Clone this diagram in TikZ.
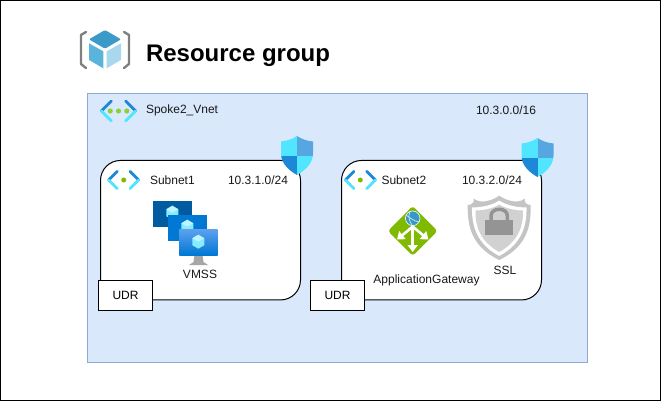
\documentclass[tikz,border=0pt]{standalone}
\usepackage{fontspec}
\setmainfont{Liberation Sans}
\usetikzlibrary{arrows.meta}

\definecolor{vnetfill}{HTML}{DAE8FC}
\definecolor{vnetline}{HTML}{8FAAD0}
\definecolor{azblue}{HTML}{1E88D8}
\definecolor{azcyan}{HTML}{50E6FF}
\definecolor{azgreen}{HTML}{7FBA00}
\definecolor{dotgreen}{HTML}{8CD03A}

\tikzset{
  % chevrons, drawn round the origin
  chevrons/.pic={
    \draw[azblue, line width=2.8pt, line cap=round] (-15,0) -- (-6.3,-8.7);
    \draw[azcyan, line width=2.8pt, line cap=round] (-15,0) -- (-6.3,8.7);
    \draw[azblue, line width=2.8pt, line cap=round] (15,0) -- (6.3,-8.7);
    \draw[azcyan, line width=2.8pt, line cap=round] (15,0) -- (6.3,8.7);
  },
  shieldicon/.pic={
    \clip (0,-19.5) .. controls (-5,-16) and (-11,-14.5) .. (-16,-14)
      -- (-16,-2) .. controls (-16,8) and (-8,15) .. (0,19.5)
      .. controls (8,15) and (16,8) .. (16,-2) -- (16,-14)
      .. controls (11,-14.5) and (5,-16) .. (0,-19.5) -- cycle;
    \fill[azcyan] (-17,-20) rectangle (0,0);
    \fill[azblue!75!white] (0,-20) rectangle (17,0);
    \fill[azblue] (-17,0) rectangle (0,20);
    \fill[azcyan] (0,0) rectangle (17,20);
  },
  vmcube/.pic={
    \fill[azcyan!70!white] (0,-7) -- (6,-3.5) -- (6,3.5) -- (0,7) -- (-6,3.5) -- (-6,-3.5) -- cycle;
    \fill[white, opacity=0.45] (0,-7) -- (6,-3.5) -- (0,0) -- (-6,-3.5) -- cycle;
  }
}

\begin{document}
\begin{tikzpicture}[x=1pt, y=-1pt, font=\fontsize{12}{14}\selectfont,
    frame/.style={draw=black, line width=1pt, minimum width=660pt, minimum height=400pt, inner sep=0pt, outer sep=0pt},
    vnetbox/.style={draw=vnetline, fill=vnetfill, line width=1pt, minimum width=500pt, minimum height=269pt, inner sep=0pt, outer sep=0pt},
    subnetbox/.style={draw=black, fill=white, line width=1pt, rounded corners=20pt, minimum width=200pt, minimum height=139.5pt, inner sep=0pt, outer sep=0pt},
    udrbox/.style={draw=black, fill=white, line width=1pt, minimum width=54pt, minimum height=30pt, inner sep=0pt, outer sep=0pt},
    label/.style={inner sep=0pt, outer sep=0pt, text=black!90},
    title/.style={inner sep=0pt, outer sep=0pt, font=\fontsize{24}{28}\selectfont\bfseries},
    gwarrow/.style={white, line width=2.6pt, -{Triangle[width=10pt, length=7pt]}}]
  \useasboundingbox (0,0) rectangle (661,401);

  \node[frame]   (page)    at (330.5, 200.5) {};
  \node[vnetbox] (vnet)    at (337.5, 228) {};
  \node[subnetbox] (subnet1) at (200.5, 230.2) {};
  \node[subnetbox] (subnet2) at (441.5, 230.2) {};
  \node[udrbox]  (udr1)    at (125.5, 295.5) {UDR};
  \node[udrbox]  (udr2)    at (337.5, 295.5) {UDR};

  % resource group icon
  \draw[black!50, line width=2.4pt, line cap=round, line join=round] (86,32) -- (81,35) -- (81,64) -- (86,68);
  \draw[black!50, line width=2.4pt, line cap=round, line join=round] (124,32) -- (129,35) -- (129,64) -- (124,68);
  \fill[rounded corners=1pt, fill={rgb,255:red,60;green,154;blue,201}] (105,30) -- (121,39.3) -- (105,48.7) -- (89,39.3) -- cycle;
  \fill[fill={rgb,255:red,90;green,180;blue,220}] (89,43.3) -- (103.3,51.3) -- (103.3,68.3) -- (89,60) -- cycle;
  \fill[fill={rgb,255:red,169;green,215;blue,238}] (106.7,51.3) -- (121,43.3) -- (121,60) -- (106.7,68.3) -- cycle;

  \node[title, anchor=west] (rgname) at (146, 55.5) {Resource group};

  % vnet texts and icon
  \pic[scale=1.14] at (118.5, 111) {chevrons};
  \foreach \x in {-8.3, 0, 8.3}
    \fill[dotgreen] (118.5+\x, 111) circle (2.6);
  \node[label, anchor=west] (vnetname) at (146, 110.5) {Spoke2\_Vnet};
  \node[label, anchor=west] (vnetcidr) at (476, 110.5) {10.3.0.0/16};

  % subnet icons
  \pic at (123.7, 180) {chevrons};
  \fill[azgreen] (123.7, 180) circle (2.5);
  \pic at (360.3, 180) {chevrons};
  \fill[azgreen] (360.3, 180) circle (2.5);

  \node[label, anchor=west] (name1) at (150, 180) {Subnet1};
  \node[label, anchor=west] (cidr1) at (228, 180) {10.3.1.0/24};
  \node[label, anchor=west] (name2) at (381.5, 180) {Subnet2};
  \node[label, anchor=west] (cidr2) at (462, 180) {10.3.2.0/24};

  \begin{scope}
    \pic at (297, 155.5) {shieldicon};
  \end{scope}
  \begin{scope}
    \pic at (537.5, 157.5) {shieldicon};
  \end{scope}

  % vmss
  \fill[fill={rgb,255:red,0;green,91;blue,161}] (153.3,201) rectangle (191.7,226.7);
  \pic at (172.3, 212.7) {vmcube};
  \fill[fill={rgb,255:red,0;green,120;blue,212}] (168.3,215.3) rectangle (206.7,241);
  \pic at (187.3, 226.7) {vmcube};
  \fill[black!35] (194.5,255) -- (202.5,255) -- (203.5,262) -- (208,265) -- (189,265) -- (193.5,262) -- cycle;
  \shade[top color={rgb,255:red,94;green,160;blue,239}, bottom color={rgb,255:red,0;green,120;blue,212}] (179.3,229.3) rectangle (217.7,255);
  \pic at (198.3, 241.7) {vmcube};
  \node[label] (vmss) at (200, 274.5) {VMSS};

  % application gateway
  \fill[azgreen, rounded corners=3pt] (412.7,206) -- (437.5,231) -- (412.7,255.8) -- (388,231) -- cycle;
  \draw[gwarrow] (412.7,224) -- (412.7,252);
  \draw[gwarrow] (412.7,226.7) -- (397,239.5);
  \draw[gwarrow] (412.7,226.7) -- (428.4,239.5);
  \fill[fill={rgb,255:red,57;green,153;blue,198}] (412.7,218.3) circle (7.3);
  \draw[white, line width=0.6pt] (412.7,218.3) circle (7.3);
  \draw[white!80!azblue, line width=0.7pt] (406,215) .. controls (410,218) and (414,221) .. (419,222);
  \draw[white!80!azblue, line width=0.7pt] (410,211.5) .. controls (408,216) and (409,221) .. (412,225);
  \node[label] (gwname) at (426.5, 280) {ApplicationGateway};

  % ssl shield
  \fill[black!23] (467.7,205) .. controls (472,205) and (475,202) .. (473.5,198.5)
    .. controls (478,202) and (483,202) .. (487,201) .. controls (492,200) and (496,198) .. (499.2,195.7)
    .. controls (502.5,198) and (506.5,200) .. (511.5,201) .. controls (515.5,202) and (520.5,202) .. (525,198.5)
    .. controls (523.5,202) and (526.5,205) .. (530.7,205)
    .. controls (531,225) and (528,246) .. (499.2,260)
    .. controls (470.5,246) and (467.5,225) .. (467.7,205) -- cycle;
  \fill[white] (472,207.5) .. controls (481,207.5) and (492,205.5) .. (499.2,200.5)
    .. controls (506.5,205.5) and (517.5,207.5) .. (526.5,207.5)
    .. controls (527,225) and (522,244) .. (499.2,256)
    .. controls (476.5,244) and (471.5,225) .. (472,207.5) -- cycle;
  \fill[black!18] (475.5,210.5) .. controls (483.5,210.5) and (493,208.5) .. (499.2,204.5)
    .. controls (505.5,208.5) and (515,210.5) .. (523,210.5)
    .. controls (523.5,225) and (519,241) .. (499.2,252)
    .. controls (479.5,241) and (475,225) .. (475.5,210.5) -- cycle;
  \fill[black!42] (485,220) rectangle (513.3,235);
  \draw[black!42, line width=3.5pt] (491,221) -- (491,216) .. controls (491,207) and (507.4,207) .. (507.4,216) -- (507.4,221);
  \node[label] (sslname) at (505, 270.5) {SSL};
\end{tikzpicture}
\end{document}
